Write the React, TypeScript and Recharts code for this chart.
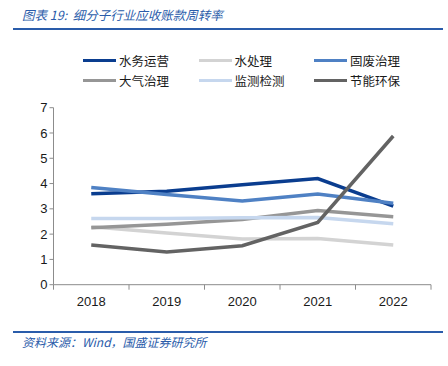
import { LineChart, Line, XAxis, YAxis } from 'recharts';

const years = ['2018', '2019', '2020', '2021', '2022'];
const seriesNames = ['水务运营', '水处理', '固废治理', '大气治理', '监测检测', '节能环保'];
const seriesColors = ['#0a3d8f', '#d3d3d3', '#4f81c4', '#969696', '#c6d7ee', '#636363'];

const waterOps = [3.6, 3.7, 3.95, 4.2, 3.11];
const waterTreat = [2.29, 2.04, 1.81, 1.83, 1.57];
const solidWaste = [3.84, 3.57, 3.31, 3.59, 3.22];
const airGov = [2.25, 2.39, 2.58, 2.93, 2.69];
const monitoring = [2.62, 2.62, 2.65, 2.66, 2.41];
const energySave = [1.57, 1.29, 1.54, 2.46, 5.88];

const seriesValues = [waterOps, waterTreat, solidWaste, airGov, monitoring, energySave];
const yTicks = [0, 1, 2, 3, 4, 5, 6, 7];

const data = years.map((year, i) => {
  const row: Record<string, string | number> = { year };
  seriesNames.forEach((name, s) => {
    row[name] = seriesValues[s][i];
  });
  return row;
});

const HALF_BAND = 37.75;
const AXIS_COLOR = '#8c8c8c';
const TEXT_BLUE = '#2a5caa';
const FONT = '"Liberation Sans", Arial, sans-serif';

const XTick = (props: any) => {
  const { x, y, payload, index } = props;
  const last = index === years.length - 1;
  return (
    <g>
      <line x1={x - HALF_BAND} x2={x - HALF_BAND} y1={y - 8} y2={y - 3} stroke={AXIS_COLOR} />
      {last && <line x1={x + HALF_BAND} x2={x + HALF_BAND} y1={y - 8} y2={y - 3} stroke={AXIS_COLOR} />}
      <text x={x} y={y + 13} textAnchor="middle" fill="#1a1a1a" fontSize={13} fontFamily={FONT}>
        {payload.value}
      </text>
    </g>
  );
};

export default function App() {
  return (
    <div style={{ position: 'absolute', left: 0, top: 0, width: 448, height: 366, background: '#fff', fontFamily: '"Noto Sans CJK SC", sans-serif' }}>
      <div style={{ position: 'absolute', left: 22, top: 5, fontSize: 12.5, fontStyle: 'italic', color: TEXT_BLUE, whiteSpace: 'nowrap', lineHeight: '20px' }}>
        图表 19:&nbsp;&nbsp;细分子行业应收账款周转率
      </div>
      <div style={{ position: 'absolute', left: 13, top: 28, width: 430, height: 2, background: TEXT_BLUE }} />

      {seriesNames.map((name, i) => {
        const col = i % 3;
        const row = Math.floor(i / 3);
        return (
          <div key={name} style={{ position: 'absolute', left: 83 + col * 115.5, top: 50 + row * 20.5, height: 20, display: 'flex', alignItems: 'center', whiteSpace: 'nowrap' }}>
            <div style={{ width: 33, height: 3, background: seriesColors[i], marginRight: 3 }} />
            <span style={{ fontSize: 12.5, color: '#1a1a1a' }}>{name}</span>
          </div>
        );
      })}

      <div style={{ position: 'absolute', left: 0, top: 0 }}>
        <LineChart width={448} height={366} data={data} margin={{ top: 107.7, right: 17, bottom: 51.3, left: 13.5 }}>
          <XAxis
            dataKey="year"
            height={30}
            padding={{ left: HALF_BAND, right: HALF_BAND }}
            tickLine={false}
            axisLine={{ stroke: AXIS_COLOR }}
            tick={<XTick />}
            interval={0}
          />
          <YAxis
            width={40}
            domain={[0, 7]}
            ticks={yTicks}
            interval={0}
            tickSize={4}
            tickLine={{ stroke: AXIS_COLOR }}
            axisLine={{ stroke: AXIS_COLOR }}
            tick={{ fill: '#1a1a1a', fontSize: 13, fontFamily: FONT }}
          />
          {seriesNames.map((name, i) => (
            <Line
              key={name}
              dataKey={name}
              stroke={seriesColors[i]}
              strokeWidth={3.5}
              dot={false}
              isAnimationActive={false}
              type="linear"
            />
          ))}
        </LineChart>
      </div>

      <div style={{ position: 'absolute', left: 13, top: 331, width: 430, height: 2, background: TEXT_BLUE }} />
      <div style={{ position: 'absolute', left: 22, top: 333, fontSize: 12, fontStyle: 'italic', color: TEXT_BLUE, whiteSpace: 'nowrap', lineHeight: '18px' }}>
        资料来源：Wind，国盛证券研究所
      </div>
    </div>
  );
}
